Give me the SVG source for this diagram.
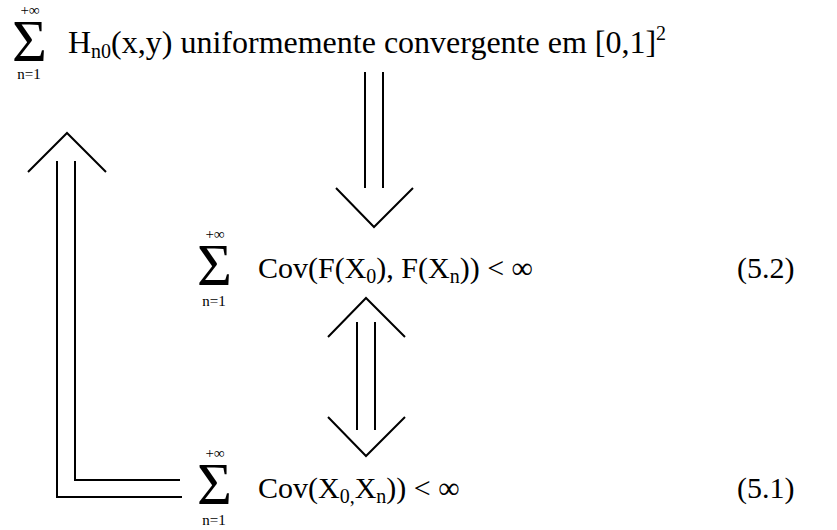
<svg xmlns="http://www.w3.org/2000/svg" width="837" height="530" viewBox="0 0 837 530">
<style>
text{font-family:"Liberation Serif","Times New Roman",serif;fill:#000}
.t{font-size:30px}
.tt{font-size:32px}
.sig{font-size:60px}
.lim{font-size:15px;text-anchor:middle}
.sub{font-size:20px}
.ln{stroke:#000;stroke-width:2;fill:none;stroke-linecap:butt}
</style>
<rect width="837" height="530" fill="#fff"/>
<g id="node-top">
<text class="sig" x="12" y="61">Σ</text>
<text class="lim" x="30" y="15">+∞</text>
<text class="lim" x="29" y="79">n=1</text>
<text class="tt" x="68" y="53">H<tspan class="sub" dy="5">n0</tspan><tspan dy="-5">(x,y) uniformemente convergente em [0,1]</tspan><tspan class="sub" dy="-13">2</tspan></text>
</g>
<g id="node-52">
<text class="sig" x="197" y="285">Σ</text>
<text class="lim" x="215" y="239">+∞</text>
<text class="lim" x="214" y="306">n=1</text>
<text class="t" x="258" y="278">Cov(F(X<tspan class="sub" dy="5">0</tspan><tspan dy="-5">), F(X</tspan><tspan class="sub" dy="5">n</tspan><tspan dy="-5">)) &lt; ∞</tspan></text>
<text class="t" x="737" y="278">(5.2)</text>
</g>
<g id="node-51">
<text class="sig" x="197" y="504">Σ</text>
<text class="lim" x="215" y="458">+∞</text>
<text class="lim" x="214" y="525">n=1</text>
<text class="t" x="258" y="498">Cov(X<tspan class="sub" dy="5">0,</tspan><tspan dy="-5">X</tspan><tspan class="sub" dy="5">n</tspan><tspan dy="-5">)) &lt; ∞</tspan></text>
<text class="t" x="737" y="498">(5.1)</text>
</g>
<g id="connectors">
<path class="ln" d="M365 72V188M383 72V188M336 188L374 227L413 188"/>
<path class="ln" d="M357 322V430M375 322V430M328 337L366 298L405 337M328 417L366 456L405 417"/>
<path class="ln" d="M57 161V497H182M75 161V480H180M28 172L67 133L106 172"/>
</g>
</svg>
